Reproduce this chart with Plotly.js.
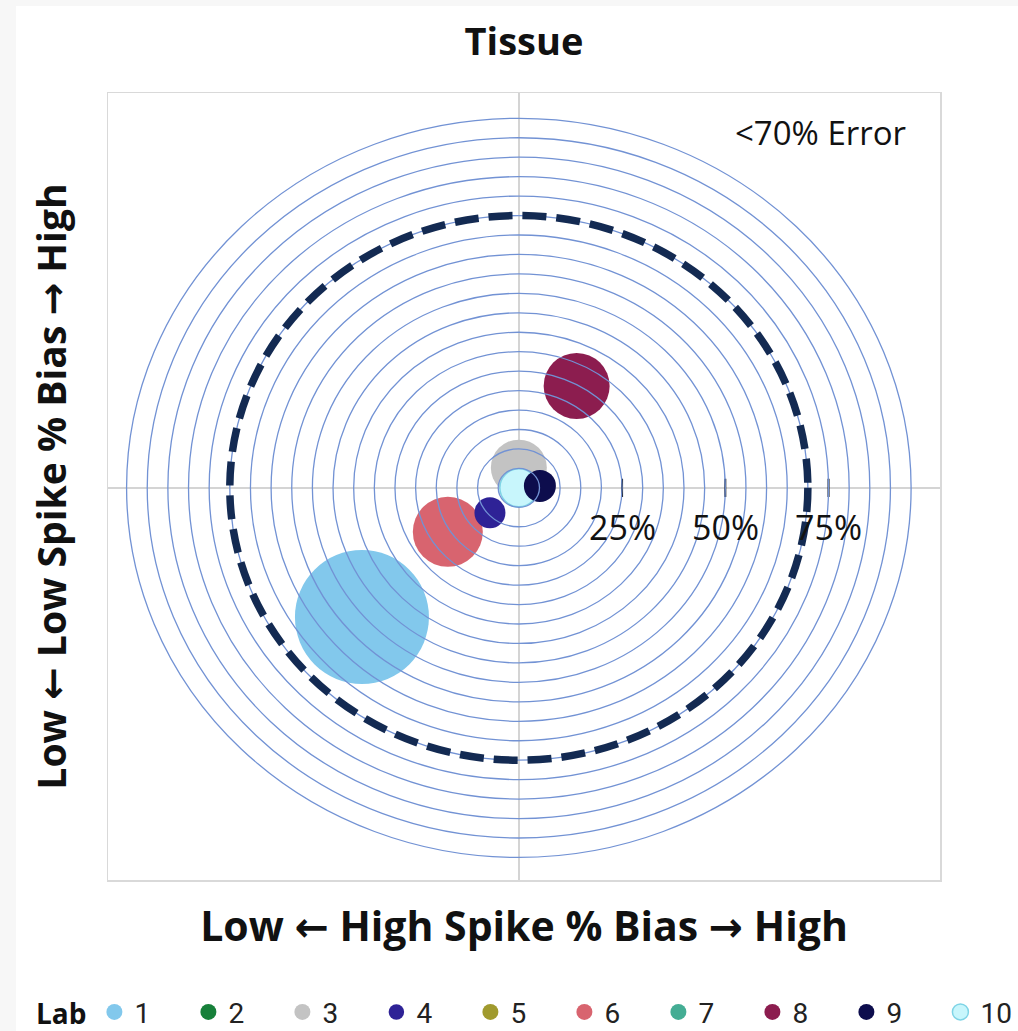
<!DOCTYPE html>
<html>
<head>
<meta charset="utf-8">
<script src="https://cdn.plot.ly/plotly-3.0.1.min.js"></script>
<style>
  html, body { margin: 0; padding: 0; background: #f7f7f7; overflow: hidden; }
  #paper { position: absolute; left: 16px; top: 6px; width: 1002px; height: 1025px; background: #fff; }
  #chart { position: absolute; left: -84px; top: 6px; width: 1102px; height: 1025px; }
</style>
</head>
<body>
<div id="paper"></div>
<div id="chart"></div>
<script>
// ---- data ----
const labs        = ['1','2','3','4','5','6','7','8','9','10'];
const highBias    = [-38.0, null, 0.0, -7.0, null, -17.2, null, 14.0, 5.1, 0.0];   // x, %
const lowBias     = [-33.2, null, 5.2, -6.4, null, -11.3, null, 26.2, 0.5, 0.0];   // y, %
const bubbleValue = [67, null, 28, 15.5, null, 35, null, 33, 16, 19];
const labColors   = ['#82c8ec','#17803a','#c3c3c3','#2e2296','#a09a2e','#d8646f','#44ad94','#8c1d4f','#0d0d4d','#c8f6fc'];
const labLines    = ['#82c8ec','#17803a','#c3c3c3','#2e2296','#a09a2e','#d8646f','#44ad94','#8c1d4f','#0d0d4d','#7fd4e6'];
const drawOrder   = [0, 1, 4, 6, 5, 3, 7, 2, 9, 8];   // indices into labs
const ringRadii   = [5,10,15,20,25,30,35,40,45,50,55,60,65,70,75,80,85,90,95];
const errorLimit  = 70;
const tickVals    = [25, 50, 75];
const tickText    = ['25%','50%','75%'];

const FONT = '"Open Sans", "Noto Sans", "DejaVu Sans", sans-serif';

const traces = drawOrder.map(i => ({
  type: 'scatter', mode: 'markers',
  name: labs[i], legendrank: i + 1,
  x: [highBias[i]], y: [lowBias[i]],
  marker: {
    size: bubbleValue[i] == null ? 40 : [bubbleValue[i]], sizemode: 'diameter', sizeref: 0.5,
    color: labColors[i], opacity: 1,
    line: { color: labLines[i], width: i === 9 ? 1.5 : 0 }
  },
  hoverinfo: 'name'
}));

traces.push({
  type: 'scatter', mode: 'markers',
  x: tickVals, y: tickVals.map(() => 0),
  marker: { symbol: 'line-ns', size: 13, line: { color: '#111', width: 2 } },
  showlegend: false, hoverinfo: 'skip'
});

const shapes = ringRadii.map(r => ({
  type: 'circle', xref: 'x', yref: 'y', layer: 'above',
  x0: -r, x1: r, y0: -r, y1: r,
  line: { color: '#7292d4', width: 1.3 }
}));
shapes.push({
  type: 'circle', xref: 'x', yref: 'y', layer: 'above',
  x0: -errorLimit, x1: errorLimit, y0: -errorLimit, y1: errorLimit,
  line: { color: '#132a52', width: 7.5, dash: '24px,10px' }
});

const annotations = tickVals.map((v, k) => ({
  x: v, y: 0, xref: 'x', yref: 'y', text: tickText[k], showarrow: false,
  xanchor: 'center', yanchor: 'top', yshift: -14,
  font: { family: FONT, size: 34, color: '#111' }
}));
annotations.push({
  x: 0.962, y: 0.950, xref: 'paper', yref: 'paper', text: '&lt;' + errorLimit + '% Error',
  showarrow: false, xanchor: 'right', yanchor: 'middle',
  font: { family: FONT, size: 33, color: '#111' }
});

const layout = {
  width: 1102, height: 1025,
  margin: { l: 192, r: 78, t: 87, b: 151, autoexpand: false },
  paper_bgcolor: 'rgba(0,0,0,0)', plot_bgcolor: '#ffffff',
  title: {
    text: '<b>Tissue</b>', x: 0.5, xref: 'paper', xanchor: 'center',
    y: 0.965, yref: 'container', yanchor: 'middle',
    font: { family: FONT, size: 38, color: '#111' }
  },
  xaxis: {
    range: [-99.5, 102], showgrid: false, showticklabels: false, ticks: '', automargin: false,
    zeroline: true, zerolinecolor: '#d4d4d4', zerolinewidth: 1.5,
    showline: true, mirror: true, linecolor: '#d9d9d9', linewidth: 1.5,
    title: { text: '<b>Low \u2190 High Spike % Bias \u2192 High</b>', standoff: 32,
             font: { family: FONT, size: 41, color: '#111' } }
  },
  yaxis: {
    range: [-100.8, 101.5], showgrid: false, showticklabels: false, ticks: '', automargin: false,
    zeroline: true, zerolinecolor: '#d4d4d4', zerolinewidth: 1.5,
    showline: true, mirror: true, linecolor: '#d9d9d9', linewidth: 1.5,
    title: { text: '<b>Low \u2190 Low Spike % Bias \u2192 High</b>', standoff: 28,
             font: { family: FONT, size: 39, color: '#111' } }
  },
  shapes: shapes,
  annotations: annotations,
  showlegend: true,
  legend: {
    orientation: 'h', x: -0.089, xanchor: 'left', y: -0.168, yanchor: 'middle',
    title: { text: '<b>Lab</b>', side: 'left', font: { family: FONT, size: 28, color: '#111' } },
    font: { family: '"Liberation Sans Narrow", "Roboto", sans-serif', size: 28, color: '#222' },
    itemsizing: 'trace', entrywidth: 49, entrywidthmode: 'pixels',
    traceorder: 'normal', bgcolor: 'rgba(0,0,0,0)'
  },
  hovermode: 'closest'
};

Plotly.newPlot('chart', traces, layout, { displayModeBar: false, staticPlot: true });
</script>
</body>
</html>
